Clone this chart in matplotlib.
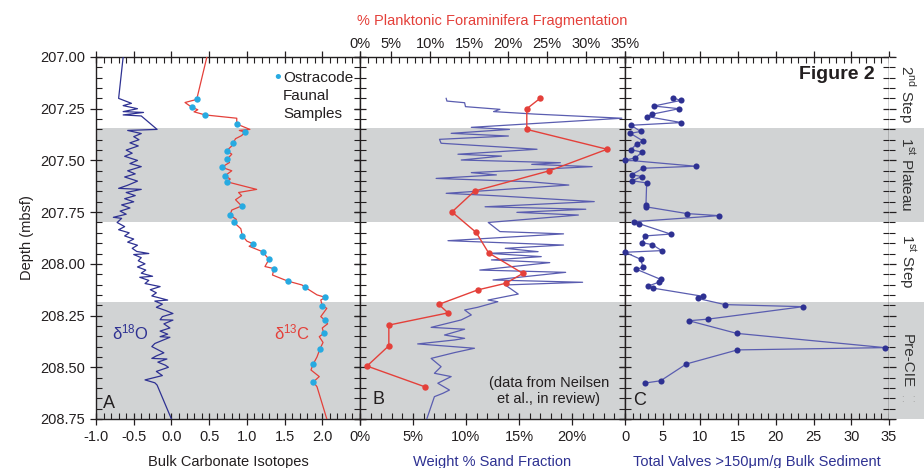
import matplotlib
matplotlib.use('Agg')
import matplotlib.pyplot as plt
from matplotlib.ticker import MultipleLocator, FixedLocator, FuncFormatter

plt.rcParams['font.family'] = ['Liberation Sans', 'DejaVu Sans']
plt.rcParams['mathtext.fontset'] = 'custom'
plt.rcParams['mathtext.rm'] = 'Liberation Sans'

# ---------------- data ----------------
d18o_depth = [207.00, 207.20, 207.224, 207.235, 207.25, 207.264, 207.268, 207.28, 207.285, 207.35,
              207.355, 207.37, 207.385, 207.40, 207.415, 207.43, 207.45, 207.465, 207.48, 207.50,
              207.515, 207.53, 207.55, 207.565, 207.58, 207.60, 207.62, 207.635, 207.64, 207.655,
              207.67, 207.685, 207.70, 207.715, 207.73, 207.745, 207.76, 207.775, 207.78, 207.80,
              207.82, 207.835, 207.85, 207.865, 207.88, 207.895, 207.91, 207.925, 207.94, 207.95,
              207.955, 207.97, 207.985, 208.00, 208.015, 208.03, 208.045, 208.06, 208.065, 208.08,
              208.095, 208.11, 208.125, 208.14, 208.155, 208.175, 208.18, 208.195, 208.21, 208.225,
              208.24, 208.255, 208.27, 208.272, 208.29, 208.31, 208.325, 208.34, 208.352, 208.355,
              208.37, 208.385, 208.40, 208.415, 208.43, 208.445, 208.457, 208.46, 208.475, 208.49,
              208.50, 208.52, 208.54, 208.561, 208.575, 208.586, 208.75]
d18o = [-0.64, -0.70, -0.53, -0.64, -0.45, -0.64, -0.37, -0.64, -0.40, -0.19,
        -0.58, -0.40, -0.50, -0.43, -0.55, -0.44, -0.60, -0.52, -0.62, -0.45,
        -0.55, -0.40, -0.58, -0.48, -0.62, -0.45, -0.58, -0.70, -0.40, -0.60,
        -0.48, -0.62, -0.50, -0.66, -0.55, -0.68, -0.60, -0.77, -0.66, -0.72,
        -0.62, -0.70, -0.56, -0.62, -0.50, -0.58, -0.45, -0.52, -0.46, -0.30,
        -0.50, -0.40, -0.44, -0.35, -0.45, -0.34, -0.40, -0.25, -0.42, -0.30,
        -0.35, -0.15, -0.28, -0.20, -0.26, -0.05, -0.22, -0.12, -0.20, -0.08,
        0.02, -0.12, -0.15, 0.02, -0.10, -0.02, -0.15, -0.05, -0.15, -0.02,
        -0.12, -0.22, -0.26, -0.18, -0.10, -0.20, -0.26, -0.06, -0.18, -0.08,
        -0.04, -0.20, -0.12, -0.35, -0.22, -0.19, 0.00]

d13c_depth = [207.00, 207.205, 207.22, 207.243, 207.255, 207.265, 207.28, 207.296, 207.324, 207.35,
              207.355, 207.364, 207.38, 207.395, 207.414, 207.43, 207.453, 207.47, 207.493, 207.51,
              207.533, 207.55, 207.574, 207.59, 207.603, 207.64, 207.655, 207.67, 207.69, 207.72,
              207.74, 207.764, 207.785, 207.80, 207.83, 207.864, 207.89, 207.904, 207.915, 207.943,
              207.96, 207.978, 208.013, 208.023, 208.054, 208.083, 208.102, 208.113, 208.15, 208.162,
              208.175, 208.202, 208.215, 208.255, 208.271, 208.29, 208.31, 208.336, 208.352, 208.38,
              208.41, 208.45, 208.484, 208.513, 208.545, 208.571, 208.594, 208.75]
d13c = [0.47, 0.335, 0.18, 0.27, 0.35, 0.30, 0.446, 0.866, 0.866, 1.04,
        0.90, 0.976, 0.93, 0.85, 0.82, 0.80, 0.733, 0.80, 0.74, 0.77,
        0.667, 0.80, 0.71, 0.78, 0.733, 1.13, 0.89, 0.93, 0.85, 0.93,
        0.80, 0.777, 0.86, 0.83, 0.92, 0.94, 1.00, 1.086, 1.03, 1.22,
        1.25, 1.294, 1.24, 1.36, 1.34, 1.54, 1.73, 1.77, 1.93, 2.04,
        1.98, 2.00, 2.06, 1.98, 2.03, 2.07, 2.00, 2.02, 1.96, 2.01,
        1.97, 1.93, 1.88, 1.85, 1.96, 1.88, 1.93, 2.06]

ostracode_depth = [207.205, 207.243, 207.28, 207.324, 207.364, 207.414, 207.453, 207.493, 207.533, 207.574,
                   207.603, 207.72, 207.764, 207.80, 207.864, 207.904, 207.943, 207.978, 208.023, 208.083,
                   208.113, 208.162, 208.202, 208.271, 208.336, 208.41, 208.484, 208.571]
ostracode_d13c = [0.335, 0.27, 0.446, 0.866, 0.976, 0.82, 0.733, 0.74, 0.667, 0.71,
                  0.733, 0.93, 0.777, 0.83, 0.94, 1.086, 1.22, 1.294, 1.36, 1.54,
                  1.77, 2.04, 2.00, 2.03, 2.02, 1.97, 1.88, 1.88]

sand_depth = [207.200, 207.213, 207.221, 207.240, 207.253, 207.264, 207.276, 207.296, 207.340, 207.350,
              207.369, 207.382, 207.398, 207.417, 207.446, 207.470, 207.479, 207.498, 207.511, 207.519,
              207.530, 207.559, 207.570, 207.587, 207.603, 207.619, 207.659, 207.670, 207.699, 207.724,
              207.736, 207.751, 207.764, 207.800, 207.844, 207.855, 207.888, 207.909, 207.925, 207.941,
              207.949, 207.965, 207.981, 207.994, 208.030, 208.041, 208.078, 208.089, 208.102, 208.146,
              208.175, 208.183, 208.210, 208.223, 208.247, 208.271, 208.307, 208.316, 208.344, 208.360,
              208.368, 208.387, 208.408, 208.429, 208.457, 208.497, 208.529, 208.545, 208.577, 208.610,
              208.626, 208.642, 208.750]
sand_pct = [8.13, 8.2, 9.87, 9.95, 13.2, 12.6, 16.5, 24.7, 10.5, 14.1,
            8.6, 14.0, 7.5, 7.65, 16.7, 9.24, 13.35, 9.55, 18.9, 16.2,
            21.9, 10.5, 12.87, 7.18, 16.0, 19.7, 8.13, 12.55, 22.1, 11.8,
            21.3, 14.8, 20.6, 12.1, 13.2, 19.2, 8.3, 19.2, 13.7, 16.8,
            12.08, 17.1, 12.4, 17.9, 11.3, 19.4, 12.55, 21.0, 13.7, 14.93,
            12.08, 13.0, 11.1, 9.87, 10.5, 9.55, 6.71, 9.87, 7.97, 9.87,
            8.92, 5.44, 10.8, 8.92, 6.71, 7.65, 7.02, 8.6, 7.34, 8.44,
            7.81, 7.02, 6.3]

frag_depth = [207.20, 207.25, 207.35, 207.446, 207.55, 207.648, 207.749, 207.848, 207.947, 208.046,
              208.094, 208.126, 208.196, 208.237, 208.296, 208.396, 208.494, 208.594]
frag_pct = [24.1, 22.4, 22.4, 32.7, 25.3, 15.7, 12.8, 15.9, 17.5, 21.9,
            19.7, 16.1, 11.1, 12.3, 4.7, 4.7, 1.9, 9.3]

valves_depth = [207.197, 207.21, 207.237, 207.25, 207.277, 207.288, 207.317, 207.33, 207.36, 207.369,
                207.406, 207.42, 207.448, 207.46, 207.488, 207.498, 207.528, 207.538, 207.569, 207.578,
                207.598, 207.609, 207.715, 207.724, 207.757, 207.767, 207.796, 207.806, 207.856, 207.865,
                207.898, 207.907, 207.936, 207.944, 207.978, 208.017, 208.026, 208.075, 208.088, 208.107,
                208.117, 208.157, 208.167, 208.197, 208.207, 208.267, 208.275, 208.336, 208.405, 208.416,
                208.484, 208.565, 208.576]
valves = [6.32, 7.38, 3.84, 7.16, 3.53, 2.96, 7.47, 0.8, 2.08, 0.71,
          2.39, 1.55, 0.8, 2.25, 1.37, 0.0, 9.37, 2.39, 0.88, 2.25,
          0.93, 2.87, 2.78, 2.74, 8.22, 12.46, 1.19, 1.9, 6.05, 2.65,
          2.3, 3.62, 4.86, 0.0, 2.08, 2.39, 1.5, 4.73, 4.55, 3.09,
          3.67, 10.34, 9.63, 13.26, 23.6, 11.05, 8.48, 14.8, 34.47, 14.9,
          8.13, 4.73, 2.7]

band_top = [207.343, 208.182]
band_bottom = [207.800, 208.75]

interval_labels = [r'2$^{\mathrm{nd}}$ Step', r'1$^{\mathrm{st}}$ Plateau', r'1$^{\mathrm{st}}$ Step', 'Pre-CIE']
interval_centers = [207.18, 207.565, 207.985, 208.468]

isotope_ticks = [-1.0, -0.5, 0.0, 0.5, 1.0, 1.5, 2.0]
sand_ticks = [0, 5, 10, 15, 20]
frag_ticks = [1, 5, 10, 15, 20, 25, 30, 35]
frag_tick_labels = ['0%', '5%', '10%', '15%', '20%', '25%', '30%', '35%']
valve_ticks = [0, 5, 10, 15, 20, 25, 30, 35]
depth_ticks = [207.00, 207.25, 207.50, 207.75, 208.00, 208.25, 208.50, 208.75]

# ---------------- style ----------------
BLUE = '#2e3192'
BLUE_L = '#5a5db0'
RED = '#e4403a'
CYAN = '#27aae1'
GRAY = '#d1d3d4'
INK = '#231f20'
FS = 10.5

W, H = 924, 468
fig = plt.figure(figsize=(W / 100, H / 100), dpi=100)


def rect(x0, x1, y0=57, y1=419):
    return [x0 / W, 1 - y1 / H, (x1 - x0) / W, (y1 - y0) / H]


axA = fig.add_axes(rect(96, 360))
axB = fig.add_axes(rect(360, 625), sharey=axA)
axC = fig.add_axes(rect(625, 889), sharey=axA)
axS = fig.add_axes(rect(889, 924), sharey=axA)

for ax in (axA, axB, axC, axS):
    for t, b in zip(band_top, band_bottom):
        ax.axhspan(t, b, color=GRAY, lw=0, zorder=0)

axA.set_ylim(208.75, 207.0)

for ax in (axA, axB, axC, axS):
    ax.yaxis.set_major_locator(FixedLocator(depth_ticks))
    ax.yaxis.set_minor_locator(MultipleLocator(0.05))

for ax in (axA, axB, axC):
    for s in ax.spines.values():
        s.set_linewidth(1.0)
        s.set_color(INK)
    ax.tick_params(which='major', direction='inout', length=9, width=0.9, colors=INK,
                   labelsize=FS, left=True, right=True, top=True)
    ax.tick_params(which='minor', direction='in', length=4, width=0.8, colors=INK,
                   left=True, right=True, top=True)

axA.yaxis.set_major_formatter(FuncFormatter(lambda v, p: f'{v:.2f}'))
axB.tick_params(labelleft=False, top=False, which='both')
axC.tick_params(labelleft=False)

# Panel A
axA.set_xlim(-1.0, 2.5)
axA.xaxis.set_major_locator(MultipleLocator(0.5))
axA.xaxis.set_minor_locator(MultipleLocator(0.1))
axA.xaxis.set_major_formatter(FuncFormatter(lambda v, p: f'{v:.1f}' if v < 2.25 else ''))
axA.plot(d18o, d18o_depth, color=BLUE, lw=0.9, zorder=3)
axA.plot(d13c, d13c_depth, color=RED, lw=0.9, zorder=3)
axA.plot(ostracode_d13c, ostracode_depth, ls='none', marker='o', ms=4.6, mfc=CYAN, mec='none', zorder=4)
axA.set_ylabel('Depth (mbsf)', fontsize=FS, color=INK, labelpad=4)
axA.set_xlabel('Bulk Carbonate Isotopes', fontsize=FS, color=INK, labelpad=8)
axA.text(0.129, 0.238, r'$\mathregular{\delta^{18}O}$', transform=axA.transAxes, color=BLUE,
         fontsize=12, ha='center', va='center')
axA.text(0.741, 0.238, r'$\mathregular{\delta^{13}C}$', transform=axA.transAxes, color=RED,
         fontsize=12, ha='center', va='center')
axA.text(0.05, 0.044, 'A', transform=axA.transAxes, fontsize=13, color=INK, ha='center', va='center')
axA.text(0.688, 0.94, '\u2022', transform=axA.transAxes, fontsize=14, color=CYAN, ha='center', va='center')
axA.text(0.708, 0.960, 'Ostracode\nFaunal\nSamples', transform=axA.transAxes, fontsize=11,
         color=INK, ha='left', va='top', linespacing=1.32)

# Panel B
axB.set_xlim(0, 25)
axB.xaxis.set_major_locator(FixedLocator(sand_ticks))
axB.xaxis.set_minor_locator(MultipleLocator(1))
axB.xaxis.set_major_formatter(FuncFormatter(lambda v, p: f'{v:.0f}%'))
axB.plot(sand_pct, sand_depth, color=BLUE_L, lw=0.9, zorder=3)
axB.set_xlabel('Weight % Sand Fraction', fontsize=FS, color=BLUE, labelpad=8)
axB.text(0.068, 0.055, 'B', transform=axB.transAxes, fontsize=13, color=INK, ha='center', va='center')
axB.text(0.713, 0.077, '(data from Neilsen\net al., in review)', transform=axB.transAxes, fontsize=FS,
         color=INK, ha='center', va='center', linespacing=1.2)

axT = axB.twiny()
axT.set_xlim(1, 35)
axT.xaxis.set_major_locator(FixedLocator(frag_ticks))
axT.xaxis.set_minor_locator(FixedLocator([m for m in range(2, 35) if m % 5 != 0]))
axT.set_xticklabels(frag_tick_labels)
axT.tick_params(which='major', direction='inout', length=9, width=0.9, colors=INK, labelsize=FS, pad=-0.5)
axT.tick_params(which='minor', direction='in', length=4, width=0.8, colors=INK)
for s in axT.spines.values():
    s.set_visible(False)
axT.plot(frag_pct, frag_depth, color=RED, lw=1.0, marker='o', ms=4.6, mfc=RED, mec='none', zorder=5)
axT.set_xlabel('% Planktonic Foraminifera Fragmentation', fontsize=FS, color=RED, labelpad=9.3)

# Panel C
axC.set_xlim(0, 35)
axC.xaxis.set_major_locator(FixedLocator(valve_ticks))
axC.xaxis.set_minor_locator(MultipleLocator(1))
axC.xaxis.set_major_formatter(FuncFormatter(lambda v, p: f'{v:.0f}'))
axC.plot(valves, valves_depth, color=BLUE_L, lw=0.9, zorder=3)
axC.plot(valves, valves_depth, ls='none', marker='o', ms=4.4, mfc=BLUE, mec='none', zorder=4, clip_on=False)
axC.set_xlabel('Total Valves >150\u03bcm/g Bulk Sediment', fontsize=FS, color=BLUE, labelpad=8)
axC.text(0.057, 0.052, 'C', transform=axC.transAxes, fontsize=13, color=INK, ha='center', va='center')
axC.text(0.947, 0.953, 'Figure 2', transform=axC.transAxes, fontsize=14, fontweight='bold',
         color=INK, ha='right', va='center')

# Strip
axS.set_xlim(0, 1)
for s in axS.spines.values():
    s.set_visible(False)
axS.set_xticks([])
axS.tick_params(axis='y', which='major', direction='in', length=5, width=0.9, colors=INK,
                left=True, right=False, labelleft=False)
axS.tick_params(axis='y', which='minor', direction='in', length=4, width=0.8, colors=INK,
                left=True, right=False)
for lab, c in zip(interval_labels, interval_centers):
    axS.text(0.5, c, lab, rotation=270, ha='center', va='center', fontsize=11, color='#333333')
axS.text(0.55, 208.655, ':   :', ha='center', va='center', fontsize=7, color='#999999')

fig.savefig('out.png', dpi=100)
